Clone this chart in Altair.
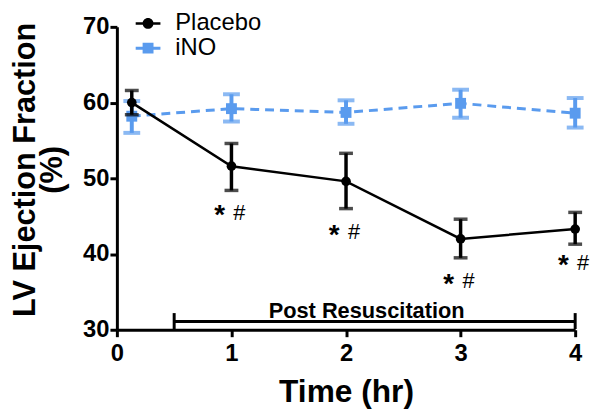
import altair as alt
import pandas as pd

# ---- data ----
time = [0.13, 1, 2, 3, 4]
placebo_mean = [60.0, 51.6, 49.6, 42.0, 43.3]
placebo_upper = [61.6, 54.6, 53.3, 44.6, 45.5]
placebo_lower = [58.4, 48.4, 46.0, 39.5, 41.3]
ino_mean = [58.2, 59.2, 58.7, 59.9, 58.6]
ino_upper = [60.2, 61.1, 60.3, 61.7, 60.6]
ino_lower = [56.0, 57.5, 57.2, 58.0, 56.7]

groups = ["Placebo", "iNO"]
colors = ["#000000", "#5A9BEE"]

sig_time = [1, 2, 3, 4]
sig_level = [45.6, 43.0, 36.6, 39.0]

bracket_start = [0.5]
bracket_end = [4]
bracket_level = [31.1]
bracket_cap_low = [30.1]
bracket_cap_high = [32.2]
bracket_label = ["Post Resuscitation"]
bracket_label_x = [2.18]
bracket_label_y = [31.6]

x_ticks = [0, 1, 2, 3, 4]
y_ticks = [30, 40, 50, 60, 70]

FONT = "Liberation Sans"

placebo = pd.DataFrame({"t": time, "m": placebo_mean, "hi": placebo_upper,
                        "lo": placebo_lower, "group": "Placebo"})
ino = pd.DataFrame({"t": time, "m": ino_mean, "hi": ino_upper,
                    "lo": ino_lower, "group": "iNO"})
both = pd.concat([placebo, ino], ignore_index=True)
sig = pd.DataFrame({"t": sig_time, "y": sig_level})
bracket = pd.DataFrame({"x1": bracket_start, "x2": bracket_end, "y": bracket_level})
bracket_caps = pd.DataFrame({"x": bracket_start + bracket_end,
                             "lo": bracket_cap_low * 2, "hi": bracket_cap_high * 2})
blabel = pd.DataFrame({"x": bracket_label_x, "y": bracket_label_y, "txt": bracket_label})

xscale = alt.Scale(domain=[0, 4], nice=False, zero=False)
yscale = alt.Scale(domain=[30, 70], nice=False, zero=False)
cscale = alt.Scale(domain=groups, range=colors)

X = alt.X("t:Q", scale=xscale,
          axis=alt.Axis(values=x_ticks, format="d", title="Time (hr)",
                        titleY=72, titleBaseline="alphabetic", labelPadding=5))
Y = alt.Y("m:Q", scale=yscale,
          axis=alt.Axis(values=y_ticks, format="d",
                        title=["LV Ejection Fraction", "(%)"],
                        titleX=-83, titleY=144, titleAngle=-90, titleAlign="center",
                        titleFontSize=31,
                        titleBaseline="alphabetic", titleLineHeight=27, labelPadding=1))

# legend layer (invisible marks, visible legend) -- first so its legend wins
leg_paths = [
    "M-1,-0.1H1V0.1H-1Z M0.44,0A0.44,0.44,0,1,1,-0.44,0A0.44,0.44,0,1,1,0.44,0Z",
    "M-1,-0.12H1V0.12H-1Z M-0.44,-0.44H0.44V0.44H-0.44Z",
]
leg = alt.Legend(orient="none", legendX=19, legendY=-16, title=None,
                 labelFontSize=24, labelFont=FONT, labelColor="black",
                 symbolSize=625, symbolStrokeWidth=0, symbolOpacity=1,
                 labelOffset=15, rowPadding=-5, padding=0)
legend_layer = alt.Chart(both).mark_point(filled=True, opacity=0).encode(
    x=X, y=Y,
    color=alt.Color("group:N", scale=cscale, legend=leg),
    shape=alt.Shape("group:N", scale=alt.Scale(domain=groups, range=leg_paths), legend=leg),
)

base_p = alt.Chart(placebo)
base_i = alt.Chart(ino)
C = alt.Color("group:N", scale=cscale, legend=None)

# iNO series (drawn first)
ino_line = base_i.mark_line(strokeWidth=3, strokeDash=[9, 6]).encode(
    x="t:Q", y="m:Q", color=C)
ino_err = base_i.mark_rule(strokeWidth=4).encode(
    x="t:Q", y="lo:Q", y2="hi:Q", color=C)
ino_cap_hi = base_i.mark_tick(orient="horizontal", size=17, thickness=4).encode(
    x="t:Q", y="hi:Q", color=C)
ino_cap_lo = base_i.mark_tick(orient="horizontal", size=17, thickness=4).encode(
    x="t:Q", y="lo:Q", color=C)
ino_pts = base_i.mark_point(shape="square", filled=True, size=121, opacity=1).encode(
    x="t:Q", y="m:Q", color=C)

# Placebo series
p_line = base_p.mark_line(strokeWidth=2.5).encode(x="t:Q", y="m:Q", color=C)
p_err = base_p.mark_rule(strokeWidth=3.5).encode(
    x="t:Q", y="lo:Q", y2="hi:Q", color=C)
p_cap_hi = base_p.mark_tick(orient="horizontal", size=14, thickness=3.5).encode(
    x="t:Q", y="hi:Q", color=C)
p_cap_lo = base_p.mark_tick(orient="horizontal", size=14, thickness=3.5).encode(
    x="t:Q", y="lo:Q", color=C)
p_pts = base_p.mark_point(shape="circle", filled=True, size=95, opacity=1).encode(
    x="t:Q", y="m:Q", color=C)

# significance marks
sig_star = alt.Chart(sig).mark_text(text="*", fontSize=28, fontWeight="bold", font=FONT,
                                    dx=-12, dy=5, baseline="middle", color="black").encode(
    x="t:Q", y="y:Q")
sig_hash = alt.Chart(sig).mark_text(text="#", fontSize=22, font=FONT,
                                    dx=8, dy=1, baseline="middle", color="black").encode(
    x="t:Q", y="y:Q")

# Post resuscitation bracket
br_line = alt.Chart(bracket).mark_rule(strokeWidth=3, color="black").encode(
    x="x1:Q", x2="x2:Q", y="y:Q")
br_caps = alt.Chart(bracket_caps).mark_rule(strokeWidth=3, color="black").encode(
    x="x:Q", y="lo:Q", y2="hi:Q")
br_text = alt.Chart(blabel).mark_text(fontSize=22, fontWeight="bold", font=FONT,
                                      baseline="alphabetic", align="center",
                                      color="black").encode(
    x="x:Q", y="y:Q", text="txt:N")

chart = alt.layer(
    legend_layer, ino_line, ino_err, ino_cap_hi, ino_cap_lo, ino_pts,
    p_line, p_err, p_cap_hi, p_cap_lo, p_pts,
    sig_star, sig_hash, br_line, br_caps, br_text,
).properties(
    width=463, height=306,
    autosize=alt.AutoSizeParams(type="none"),
    padding={"left": 110, "top": 17, "right": 17, "bottom": 78},
).configure_view(stroke=None).configure_axis(
    grid=False, domainColor="black", domainWidth=3, tickColor="black",
    tickWidth=3, tickSize=7, labelFont=FONT, labelFontSize=24,
    labelFontWeight="bold", labelColor="black", titleFont=FONT,
    titleFontSize=32, titleFontWeight="bold", titleColor="black",
    labelFlush=False, labelOverlap=False,
)

chart.save("out.html", embed_options={"renderer": "svg", "actions": False})
